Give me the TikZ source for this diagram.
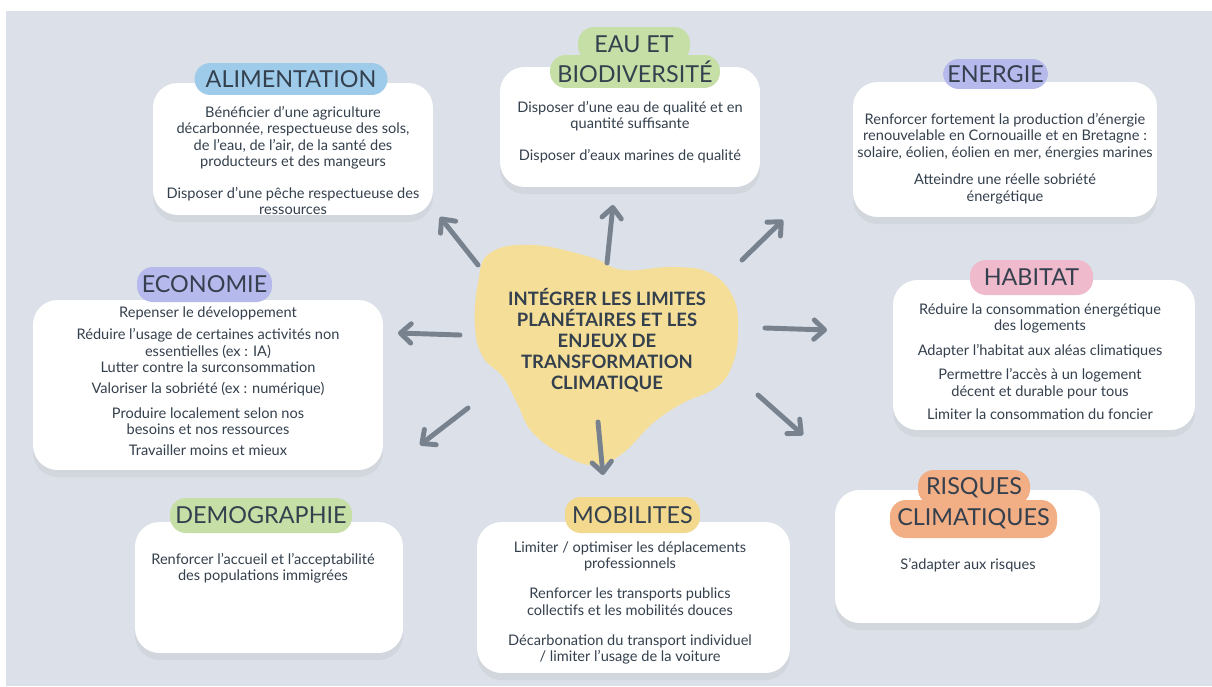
\documentclass[tikz,border=0pt]{standalone}
\usepackage{fontspec}
\setmainfont{Lato}
\usetikzlibrary{arrows.meta,shadows}

\definecolor{backdrop}{HTML}{DCE0E8}
\definecolor{ink}{HTML}{34404D}
\definecolor{spokegray}{HTML}{77828E}
\definecolor{blobyellow}{HTML}{F4DE98}
\definecolor{tagblue}{HTML}{9ECBEA}
\definecolor{taggreen}{HTML}{C6DFA6}
\definecolor{tagpurple}{HTML}{B6B9EC}
\definecolor{tagpink}{HTML}{EFBACB}
\definecolor{tagyellow}{HTML}{F3D98D}
\definecolor{tagorange}{HTML}{F2AE84}

\tikzset{
  panel/.style={fill=white, rounded corners=14pt, inner sep=0pt,
    drop shadow={shadow xshift=0pt, shadow yshift=-4pt, opacity=0.10}},
  tag/.style={fill=#1, rounded corners=9pt, inner sep=0pt, text=ink,
    font=\fontsize{13.3}{14}\selectfont},
  body/.style={text=ink, align=center, inner sep=0pt, anchor=north,
    font=\fontsize{8.3}{9.3}\selectfont},
  core/.style={text=ink, align=center, inner sep=0pt,
    font=\fontsize{10.5}{12}\selectfont\bfseries},
  spoke/.style={draw=spokegray, line width=2.8pt, line cap=round,
    -{Straight Barb[round, length=6pt, width=11pt]}},
}

\begin{document}
\begin{tikzpicture}[x=0.02cm, y=-0.02cm]
    \useasboundingbox (0,0) rectangle (1212,686);
    \fill[white] (0,0) rectangle (1212,686);
    \fill[backdrop] (6,11) rectangle (1212,686);
    % Definitions:
    \coordinate (nw-a) at (478,265);
    \coordinate (nw-b) at (440,217);
    \coordinate (n-a) at (607,263);
    \coordinate (n-b) at (613,205);
    \coordinate (ne-a) at (742,260);
    \coordinate (ne-b) at (783,220);
    \coordinate (w-a) at (460,335);
    \coordinate (w-b) at (398,333);
    \coordinate (e-a) at (765,328);
    \coordinate (e-b) at (827,330);
    \coordinate (sw-a) at (468,408);
    \coordinate (sw-b) at (420,445);
    \coordinate (s-a) at (598,422);
    \coordinate (s-b) at (603,475);
    \coordinate (se-a) at (758,395);
    \coordinate (se-b) at (803,435);
    % Drawing:
    \node[panel, minimum width=5.6cm, minimum height=2.64cm] (alim) at (293,149) {};
    \node[panel, minimum width=5.2cm, minimum height=2.4cm] (eau) at (630,127) {};
    \node[panel, minimum width=6.08cm, minimum height=2.7cm] (ener) at (1005,149.5) {};
    \node[panel, minimum width=7cm, minimum height=3.4cm] (econ) at (208,385) {};
    \node[panel, minimum width=6.04cm, minimum height=3cm] (habit) at (1044,355) {};
    \node[panel, minimum width=5.36cm, minimum height=2.62cm] (demo) at (269,587.5) {};
    \node[panel, minimum width=6.26cm, minimum height=3.02cm] (mobil) at (633.5,597.5) {};
    \node[panel, minimum width=5.3cm, minimum height=2.66cm] (risq) at (967.5,556.5) {};
    \fill[blobyellow] plot[smooth cycle, tension=0.7] coordinates {(490,253) (533,245) (590,257)
      (623,270) (673,267) (710,273) (733,297) (738,330) (733,363) (717,387) (683,403)
      (653,423) (623,453) (597,465) (567,457) (533,433) (517,403) (503,377) (483,357)
      (475,327) (478,283)};
    \draw[spoke] (nw-a) -- (nw-b);
    \draw[spoke] (n-a) -- (n-b);
    \draw[spoke] (ne-a) -- (ne-b);
    \draw[spoke] (w-a) -- (w-b);
    \draw[spoke] (e-a) -- (e-b);
    \draw[spoke] (sw-a) -- (sw-b);
    \draw[spoke] (s-a) -- (s-b);
    \draw[spoke] (se-a) -- (se-b);
    % Labels:
    \node[core] (core) at (607,340) {INTÉGRER LES LIMITES\\PLANÉTAIRES ET LES\\ENJEUX DE\\TRANSFORMATION\\CLIMATIQUE};
    \node[tag=tagblue, minimum width=3.86cm, minimum height=0.64cm] (alim-tag) at (291,79) {ALIMENTATION};
    \node[tag=taggreen, minimum width=3.4cm, minimum height=0.66cm] (eau-tag2) at (635,71.5) {BIODIVERSITÉ};
    \node[tag=taggreen, minimum width=2.24cm, minimum height=0.7cm] (eau-tag1) at (634,44.5) {EAU ET};
    \node[tag=tagpurple, minimum width=2.1cm, minimum height=0.6cm] (ener-tag) at (995.5,74) {ENERGIE};
    \node[tag=tagpurple, minimum width=2.7cm, minimum height=0.7cm] (econ-tag) at (204.5,284.5) {ECONOMIE};
    \node[tag=tagpink, minimum width=2.46cm, minimum height=0.7cm] (habit-tag) at (1031.5,277.5) {HABITAT};
    \node[tag=taggreen, minimum width=3.64cm, minimum height=0.7cm] (demo-tag) at (261,515.5) {DEMOGRAPHIE};
    \node[tag=tagyellow, minimum width=2.7cm, minimum height=0.72cm] (mobil-tag) at (632.5,515) {MOBILITES};
    \node[tag=tagorange, minimum width=3.34cm, minimum height=0.76cm] (risq-tag2) at (973.5,519) {CLIMATIQUES};
    \node[tag=tagorange, minimum width=2.24cm, minimum height=0.7cm] (risq-tag1) at (974,487.5) {RISQUES};
    \node[body] (alim-txt) at (293,106) {Bénéficier d’une agriculture\\décarbonnée, respectueuse des sols,\\de l’eau, de l’air, de la santé des\\producteurs et des mangeurs\\[8.8pt]Disposer d’une pêche respectueuse des\\ressources};
    \node[body] (eau-txt) at (630,101) {Disposer d’une eau de qualité et en\\quantité suffisante\\[9pt]Disposer d’eaux marines de qualité};
    \node[body] (ener-txt) at (1005,113) {Renforcer fortement la production d’énergie\\renouvelable en Cornouaille et en Bretagne :\\solaire, éolien, éolien en mer, énergies marines\\[6.5pt]Atteindre une réelle sobriété\\énergétique};
    \node[body] (econ-txt) at (208,306) {Repenser le développement\\[3.7pt]Réduire l’usage de certaines activités non\\essentielles (ex : IA)\\Lutter contre la surconsommation\\[2.5pt]Valoriser la sobriété (ex : numérique)\\[4.8pt]Produire localement selon nos\\besoins et nos ressources\\[2.5pt]Travailler moins et mieux};
    \node[body] (habit-txt) at (1040,303) {Réduire la consommation énergétique\\des logements\\[4.8pt]Adapter l’habitat aux aléas climatiques\\[4.8pt]Permettre l’accès à un logement\\décent et durable pour tous\\[3.7pt]Limiter la consommation du foncier};
    \node[body] (demo-txt) at (263,553) {Renforcer l’accueil et l’acceptabilité\\des populations immigrées};
    \node[body] (mobil-txt) at (630,541) {Limiter / optimiser les déplacements\\professionnels\\[8pt]Renforcer les transports publics\\collectifs et les mobilités douces\\[8pt]Décarbonation du transport individuel\\/ limiter l’usage de la voiture};
    \node[body] (risq-txt) at (968,558) {S’adapter aux risques};
\end{tikzpicture}
\end{document}
